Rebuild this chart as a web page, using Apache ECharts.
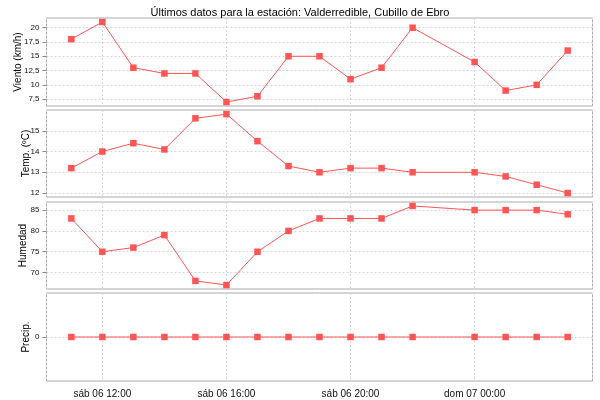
<!DOCTYPE html>
<html><head><meta charset="utf-8">
<script src="https://cdn.jsdelivr.net/npm/echarts@6/dist/echarts.min.js"></script>
<style>html,body{margin:0;padding:0;background:#fff}#c{width:600px;height:400px}</style>
</head><body><div id="c"></div>
<script>
const times = ['2024-07-06 11:00','2024-07-06 12:00','2024-07-06 13:00','2024-07-06 14:00','2024-07-06 15:00','2024-07-06 16:00','2024-07-06 17:00','2024-07-06 18:00','2024-07-06 19:00','2024-07-06 20:00','2024-07-06 21:00','2024-07-06 22:00','2024-07-07 00:00','2024-07-07 01:00','2024-07-07 02:00','2024-07-07 03:00'];
const viento = [18,21,13,12,12,7,8,15,15,11,13,20,14,9,10,16];
const temp = [13.2,14.0,14.4,14.1,15.6,15.8,14.5,13.3,13.0,13.2,13.2,13.0,13.0,12.8,12.4,12.0];
const humedad = [83,75,76,79,68,67,75,80,83,83,83,86,85,85,85,84];
const precip = [0,0,0,0,0,0,0,0,0,0,0,0,0,0,0,0];
const vientoTicks = [7.5,10,12.5,15,17.5,20];
const tempTicks = [12,13,14,15];
const humedadTicks = [70,75,80,85];
const precipTicks = [0];
const axisNames = ['Viento (km/h)','Temp. (ºC)','Humedad','Precip.'];
const titleText = 'Últimos datos para la estación: Valderredible, Cubillo de Ebro';
const xRange = ['2024-07-06 10:12','2024-07-07 03:48'];
const yRanges = [[6.3,21.7],[11.81,16.0],[66.05,86.95],[-1,1]];

const toTs = s => new Date(s.replace(' ','T')).getTime();
const ts = times.map(toTs);
const FONT = 'Liberation Sans';
const days = ['dom','lun','mar','mié','jue','vie','sáb'];
const pad = n => (n<10?'0':'')+n;
const fmtX = v => { const d = new Date(v); return days[d.getDay()]+' '+pad(d.getDate())+' '+pad(d.getHours())+':'+pad(d.getMinutes()); };

const grids = [
  {left:46.5, right:7.5, top:18, height:88},
  {left:46.5, right:7.5, top:110, height:87},
  {left:46.5, right:7.5, top:202, height:87},
  {left:46.5, right:7.5, top:293, height:88}
].map(g => Object.assign(g, {show:true, borderColor:'#aaaaaa', borderWidth:1, backgroundColor:'#fff', outerBoundsMode:'none', containLabel:false}));

const tickSets = [vientoTicks,tempTicks,humedadTicks,precipTicks];
const nameGaps = [23,15,18,15];
const series = [viento,temp,humedad,precip];
const option = {
  animation:false,
  title:{text:titleText, left:'center', top:2, textStyle:{fontFamily:FONT, fontSize:11, fontWeight:'normal', color:'#000'}},
  grid: grids,
  xAxis: grids.map((g,i)=>({
    type:'time', gridIndex:i, min:toTs(xRange[0]), max:toTs(xRange[1]),
    minInterval:4*3600*1000, maxInterval:4*3600*1000,
    axisLine:{show:false},
    axisTick:{show:i===3, length:3, lineStyle:{color:'#888'}},
    axisLabel:{show:i===3, formatter:fmtX, fontFamily:FONT, fontSize:10, color:'#111', margin:8, showMinLabel:false, showMaxLabel:false},
    splitLine:{show:true, lineStyle:{color:'#d6d6d6', type:[2,2], width:1}}
  })),
  yAxis: yRanges.map((r,i)=>({
    type:'value', gridIndex:i, min:r[0], max:r[1],
    name:axisNames[i], nameLocation:'middle', nameGap:nameGaps[i], nameRotate:90, nameMoveOverlap:false,
    nameTextStyle:{fontFamily:FONT, fontSize:10, color:'#000'},
    axisLine:{show:false},
    axisTick:{show:true, length:4, customValues:tickSets[i], lineStyle:{color:'#888'}},
    axisLabel:{fontFamily:FONT, fontSize:8, color:'#111', margin:7, customValues:tickSets[i],
      formatter: v => String(v).replace('.',',')},
    splitLine:{show:true, lineStyle:{color:'#d6d6d6', type:[2,2], width:1}}
  })),
  series: series.map((arr,i)=>({
    type:'line', xAxisIndex:i, yAxisIndex:i,
    data: arr.map((v,j)=>[ts[j], v]),
    symbol:'rect', symbolSize:6.5,
    itemStyle:{color:'#ff5555'},
    lineStyle:{color:'#ff5555', width:1},
    emphasis:{disabled:true}
  }))
};
echarts.init(document.getElementById('c')).setOption(option);
</script>
</body></html>
